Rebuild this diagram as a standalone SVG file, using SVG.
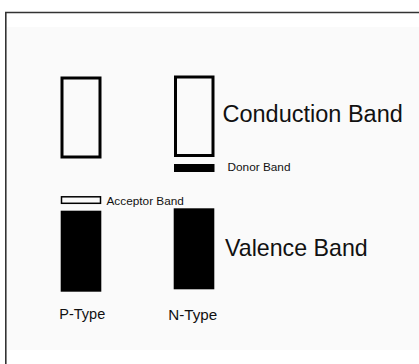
<svg xmlns="http://www.w3.org/2000/svg" width="419" height="364" viewBox="0 0 419 364">
  <style>
    text { font-family: "Liberation Sans", Arial, sans-serif; fill: #111; }
    .band-open { fill: none; stroke: #000; stroke-width: 3; }
    .band-thin { fill: none; stroke: #000; stroke-width: 1.5; }
    .band-full { fill: #000; }
    .big { font-size: 23.5px; }
    .small { font-size: 11.8px; }
    .label { font-size: 14.5px; }
    .frame { stroke: #333; stroke-width: 1.6; fill: none; }
  </style>
  <rect width="419" height="364" fill="#fff"/>
  <!-- panel background -->
  <rect x="7" y="27" width="412" height="323" fill="#fafafa"/>
  <g id="frame">
    <line class="frame" x1="5" y1="12.5" x2="419" y2="12.5"/>
    <line class="frame" x1="5.8" y1="12" x2="5.8" y2="364"/>
  </g>
  <g id="p-conduction">
    <rect class="band-open" x="62" y="78" width="38" height="79"/>
  </g>
  <g id="n-conduction">
    <rect class="band-open" x="175.5" y="77" width="37.5" height="78.5"/>
  </g>
  <g id="donor-band">
    <rect class="band-full" x="174" y="164" width="40.5" height="8"/>
    <text class="small" x="227.5" y="170.5">Donor Band</text>
  </g>
  <g id="acceptor-band">
    <rect class="band-thin" x="61.5" y="196.8" width="39" height="6.5"/>
    <text class="small" x="106.5" y="204.5">Acceptor Band</text>
  </g>
  <g id="p-valence">
    <rect class="band-full" x="60.7" y="210.7" width="40.6" height="81"/>
  </g>
  <g id="n-valence">
    <rect class="band-full" x="173.7" y="208.3" width="40.6" height="81"/>
  </g>
  <g id="titles">
    <text class="big" x="222.5" y="121.7">Conduction Band</text>
    <text class="big" x="225" y="256" style="font-size:23.2px">Valence Band</text>
  </g>
  <g id="type-labels">
    <text class="label" x="59.3" y="318.5">P-Type</text>
    <text class="label" x="168.3" y="319.5" style="font-size:15.2px">N-Type</text>
  </g>
  <g id="connectors"></g>
</svg>
